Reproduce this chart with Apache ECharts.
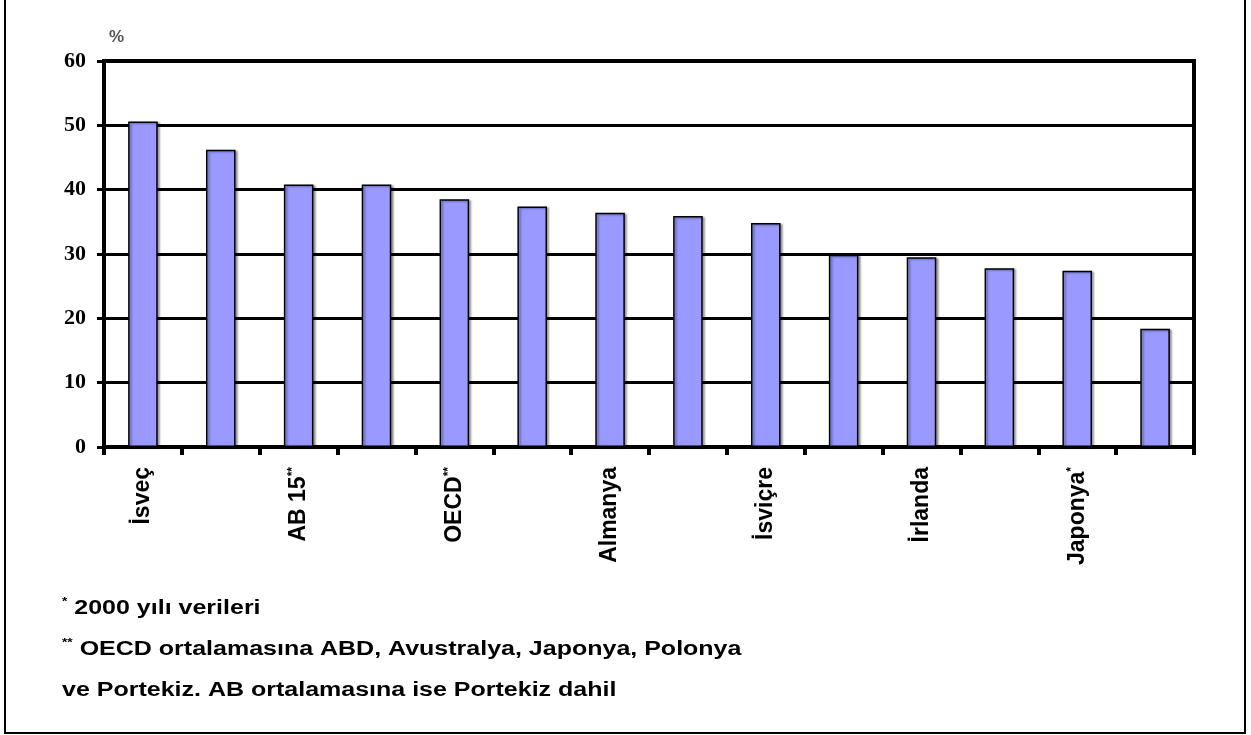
<!DOCTYPE html>
<html>
<head>
<meta charset="utf-8">
<script src="https://cdn.jsdelivr.net/npm/echarts@6/dist/echarts.min.js"></script>
<style>
html,body{margin:0;padding:0;background:#fff;}
#chart{width:1251px;height:735px;}
</style>
</head>
<body>
<div id="chart"></div>
<script>
// Categories (only every other label is printed in the original)
const categories = ['İsveç', '', 'AB 15**', '', 'OECD**', '', 'Almanya', '', 'İsviçre', '', 'İrlanda', '', 'Japonya*', ''];
const values = [50.6, 46.2, 40.8, 40.8, 38.5, 37.4, 36.4, 35.9, 34.8, 29.9, 29.5, 27.8, 27.4, 18.4];
const yTicks = [0, 10, 20, 30, 40, 50, 60];
const unitLabel = '%';
const footnotes = [
  ['*', ' 2000 yılı verileri'],
  ['**', ' OECD ortalamasına ABD, Avustralya, Japonya, Polonya'],
  ['', 've Portekiz. AB ortalamasına ise Portekiz dahil']
];

const chart = echarts.init(document.getElementById('chart'), null, {renderer: 'canvas'});

function catLabel(v) {
  if (!v) return '';
  const m = v.match(/^(.*?)(\*+)$/);
  return m ? '{a|' + m[1] + '}{s|' + m[2] + '}' : '{a|' + v + '}';
}

const footGraphics = footnotes.map((f, i) => ({
  type: 'text',
  x: 62,
  y: 596 + i * 41,
  scaleX: 1.25,
  style: {
    text: (f[0] ? '{s|' + f[0] + '}' : '') + '{a|' + f[1] + '}',
    textVerticalAlign: 'top',
    rich: {
      a: {fontFamily: 'Liberation Sans, Arial, sans-serif', fontWeight: 'bold', fontSize: 20, fill: '#000', lineHeight: 24},
      s: {fontFamily: 'Liberation Sans, Arial, sans-serif', fontWeight: 'bold', fontSize: 11, fill: '#000', verticalAlign: 'top', lineHeight: 24}
    }
  }
}));

chart.setOption({
  animation: false,
  backgroundColor: '#fff',
  grid: {
    left: 104, right: 57, top: 61, bottom: 288,
    show: true, borderColor: '#000', borderWidth: 4, backgroundColor: 'transparent'
  },
  xAxis: {
    type: 'category',
    data: categories,
    boundaryGap: true,
    axisLine: {show: true, lineStyle: {color: '#000', width: 4}},
    axisTick: {show: true, interval: 0, length: 8, lineStyle: {color: '#000', width: 4}},
    axisLabel: {
      interval: 0,
      rotate: 90,
      margin: 20,
      formatter: catLabel,
      rich: {
        a: {fontFamily: 'Liberation Sans, Arial, sans-serif', fontWeight: 'bold', fontSize: 23, color: '#000'},
        s: {fontFamily: 'Liberation Sans, Arial, sans-serif', fontWeight: 'bold', fontSize: 12, color: '#000', verticalAlign: 'top'}
      }
    },
    splitLine: {show: false}
  },
  yAxis: {
    type: 'value',
    min: yTicks[0],
    max: yTicks[yTicks.length - 1],
    interval: yTicks[1] - yTicks[0],
    axisLine: {show: true, lineStyle: {color: '#000', width: 4}},
    axisTick: {show: true, length: 7, lineStyle: {color: '#000', width: 3}},
    axisLabel: {
      margin: 18,
      fontFamily: 'Liberation Serif, Times New Roman, serif',
      fontWeight: 'bold',
      fontSize: 22,
      color: '#000'
    },
    splitLine: {show: true, lineStyle: {color: '#000', width: 3}}
  },
  graphic: [
    {
      type: 'rect',
      shape: {x: 5, y: -10, width: 1240, height: 743},
      style: {fill: 'none', stroke: '#000', lineWidth: 2},
      silent: true
    },
    {
      type: 'text',
      x: 109,
      y: 29,
      style: {text: unitLabel, fontFamily: 'Liberation Sans, Arial, sans-serif', fontSize: 17, fontWeight: 'bold', fill: '#555'}
    }
  ].concat(footGraphics),
  series: [{
    type: 'bar',
    data: values,
    barWidth: '38%',
    itemStyle: {
      color: '#9999FF',
      borderColor: '#000',
      borderWidth: 1.5,
      shadowColor: 'rgba(0,0,0,0.35)',
      shadowBlur: 2,
      shadowOffsetX: 2,
      shadowOffsetY: 1
    }
  }]
});
</script>
</body>
</html>
